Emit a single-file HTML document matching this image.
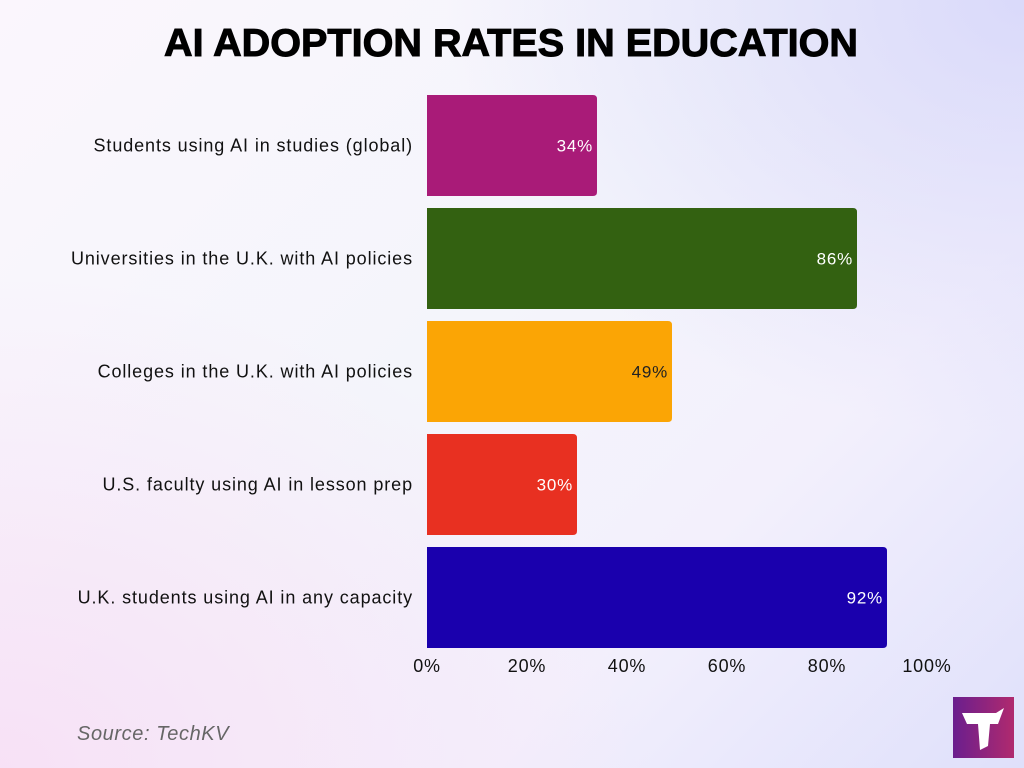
<!DOCTYPE html>
<html><head><meta charset="utf-8"><style>
html,body{margin:0;padding:0;width:1024px;height:768px;overflow:hidden}
body{background:linear-gradient(135deg,#fbf6fd 0%,#f4f5fb 45%,#f3f0fc 70%,#dfe0fb 100%);position:relative;font-family:"Liberation Sans",sans-serif}
.bg2{position:absolute;inset:0;background:radial-gradient(ellipse at 0% 100%,rgba(248,220,245,0.8),rgba(255,255,255,0) 45%),radial-gradient(ellipse at 100% 0%,rgba(215,215,250,0.9),rgba(255,255,255,0) 40%)}
</style></head><body>
<div class="bg2"></div>
<svg id="chart" width="1024" height="768" style="position:absolute;left:0;top:0">
<text x="511" y="56" text-anchor="middle" font-family="Liberation Sans, sans-serif" font-weight="900" font-size="39" textLength="694" lengthAdjust="spacingAndGlyphs" fill="#000" stroke="#000" stroke-width="1">AI ADOPTION RATES IN EDUCATION</text>
<g id="bars"></g>
<g id="ticks"></g>
<text x="77" y="740" font-size="20" font-style="italic" fill="#666" letter-spacing="0.6">Source: TechKV</text>
<g>
<defs><linearGradient id="lg" x1="0" x2="1"><stop offset="0" stop-color="#6a1e8e"/><stop offset="1" stop-color="#b02a6e"/></linearGradient></defs>
<rect x="953" y="697" width="61" height="61" fill="url(#lg)"/>
<path d="M962 713 L996 713 L1004 708 L998 724 L990 724 L988 746 L980 750 L978 724 L967 724 Z" fill="#fff"/>
</g>
</svg>
<script>
const categories=["Students using AI in studies (global)","Universities in the U.K. with AI policies","Colleges in the U.K. with AI policies","U.S. faculty using AI in lesson prep","U.K. students using AI in any capacity"];
const values=[34,86,49,30,92];
const colors=["#a91b78","#336111","#fba505","#e83021","#1a00ad"];
const labelColors=["#fff","#fff","#222","#fff","#fff"];
const tickValues=[0,20,40,60,80,100];
const tickLabels=["0%","20%","40%","60%","80%","100%"];
const NS="http://www.w3.org/2000/svg";
const x0=427,x1=927,yTop=95,band=113,barH=101;
const xs=v=>x0+(x1-x0)*v/100;
const yb=i=>yTop+i*band;
const bars=document.getElementById('bars');
function mk(t,a){const e=document.createElementNS(NS,t);for(const k in a)e.setAttribute(k,a[k]);return e;}
values.forEach((v,i)=>{
  const w=xs(v)-x0,y=yb(i),r=4;
  const p=mk('path',{d:`M${x0} ${y} H${x0+w-r} Q${x0+w} ${y} ${x0+w} ${y+r} V${y+barH-r} Q${x0+w} ${y+barH} ${x0+w-r} ${y+barH} H${x0} Z`,fill:colors[i]});
  
  
  bars.appendChild(p);
  const vl=mk('text',{x:xs(v)-4,y:y+barH/2+6,'text-anchor':'end','font-size':17,'letter-spacing':0.8,fill:labelColors[i]});
  vl.textContent=v+'%';
  
  
  bars.appendChild(vl);
  const cl=mk('text',{x:413,y:y+barH/2+6,'text-anchor':'end','font-size':18,'letter-spacing':0.9,fill:'#111'});
  cl.textContent=categories[i];
  
  
  bars.appendChild(cl);
});
const ticks=document.getElementById('ticks');
tickValues.forEach((t,i)=>{
  const tl=mk('text',{x:xs(t),y:672,'text-anchor':'middle','font-size':18,'letter-spacing':0.8,fill:'#111'});
  tl.textContent=tickLabels[i];
  
  
  ticks.appendChild(tl);
});
</script>
</body></html>
